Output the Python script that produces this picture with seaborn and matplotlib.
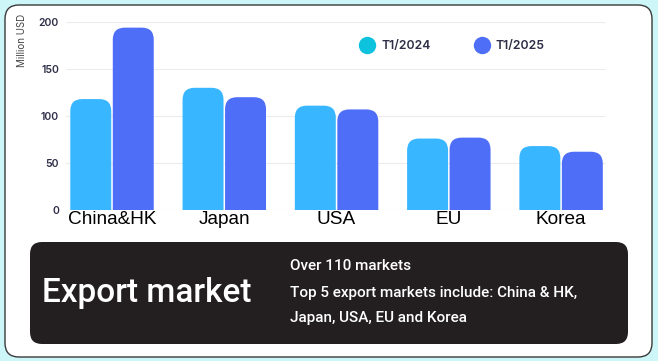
import matplotlib
matplotlib.use("Agg")
import matplotlib.pyplot as plt
import seaborn as sns
import pandas as pd
from matplotlib.patches import FancyBboxPatch, PathPatch
from matplotlib.path import Path
from matplotlib.transforms import IdentityTransform
from matplotlib.lines import Line2D

# ---- data ----
markets = ["China&HK", "Japan", "USA", "EU", "Korea"]
t1_2024 = [118, 130, 111, 76, 68]
t1_2025 = [194, 120, 107, 77, 62]
periods = ["T1/2024", "T1/2025"]
y_ticks = [0, 50, 100, 150, 200]
y_label = "Million USD"
box_title = "Export market"
box_lines = ["Over 110 markets",
             "Top 5 export markets include: China & HK,",
             "Japan, USA, EU and Korea"]

bar_colors = ["#38B6FF", "#4F6EF7"]
legend_colors = ["#0CC2DC", "#4F6EF7"]

df = pd.DataFrame({
    "market": markets * 2,
    "period": [periods[0]] * len(markets) + [periods[1]] * len(markets),
    "value": t1_2024 + t1_2025,
})

sns.set_theme(style="white")
W, H = 658, 361
fig = plt.figure(figsize=(W / 100, H / 100), dpi=100)
fig.patch.set_facecolor("#CCF6F7")


def px_box(x0, y0, x1, y1, r, fc, ec="none", lw=0, z=0):
    p = FancyBboxPatch((x0, H - y1), x1 - x0, y1 - y0,
                       boxstyle=f"round,pad=0,rounding_size={r}",
                       transform=IdentityTransform(), fc=fc, ec=ec, lw=lw,
                       zorder=z)
    fig.add_artist(p)


# white panel and dark info box
px_box(5, 5, 652, 357, 14, "white", ec="#3A3A3A", lw=1.0, z=-5)
px_box(30, 242, 628, 344, 12, "#231F20", z=1)

ax = fig.add_axes([66 / W, 1 - 210 / H, (606 - 66) / W, (210 - 22) / H])
ax.patch.set_alpha(0)

sns.barplot(data=df, x="market", y="value", hue="period", palette=bar_colors,
            width=0.757, gap=0.036, saturation=1, legend=False, ax=ax)

ax.set_xlim(-0.41, 4.40)
ax.set_ylim(0, 200)
ax.set_yticks(y_ticks)
ax.set_xlabel("")
ax.set_ylabel("")
ax.yaxis.grid(True, color="#ECECEC", lw=0.8)
ax.set_axisbelow(True)
sns.despine(ax=ax, left=True, bottom=True)

# round the top corners of each bar (in pixel space)
r = 12.0
for p in list(ax.patches):
    x, y = p.get_x(), p.get_y()
    w, h = p.get_width(), p.get_height()
    fc = p.get_facecolor()
    (X0, Y0) = ax.transData.transform((x, y))
    (X1, Y1) = ax.transData.transform((x + w, y + h))
    rr = min(r, (X1 - X0) / 2, Y1 - Y0)
    verts = [(X0, Y0), (X0, Y1 - rr), (X0, Y1), (X0 + rr, Y1),
             (X1 - rr, Y1), (X1, Y1), (X1, Y1 - rr), (X1, Y0), (X0, Y0)]
    codes = [Path.MOVETO, Path.LINETO, Path.CURVE3, Path.CURVE3,
             Path.LINETO, Path.CURVE3, Path.CURVE3, Path.LINETO, Path.CLOSEPOLY]
    p.remove()
    pp = PathPatch(Path(verts, codes), fc=fc, ec="none",
                   transform=IdentityTransform(), zorder=3)
    ax.add_artist(pp)

ax.tick_params(axis="y", length=0, pad=5, labelsize=7.5, labelcolor="#2E2E48")
for t in ax.get_yticklabels():
    t.set_fontfamily("Inter")
    t.set_fontweight("semibold")
ax.tick_params(axis="x", length=0, pad=1, labelsize=13.7, labelcolor="black")
for t in ax.get_xticklabels():
    t.set_fontfamily("Liberation Sans")

# legend
handles = [Line2D([], [], marker="o", ls="", markersize=11.5,
                  markerfacecolor=c, markeredgecolor=c) for c in legend_colors]
leg = ax.legend(handles, periods, ncol=2, frameon=False, loc="center left",
                bbox_to_anchor=(353.5 / W, 1 - 46 / H),
                bbox_transform=fig.transFigure, borderpad=0,
                handlelength=1.2, handletextpad=0.55, columnspacing=3.6,
                prop={"family": "Inter", "weight": "semibold", "size": 8.8})
for t in leg.get_texts():
    t.set_color("#2E2E48")

# y label
fig.text(22 / W, 1 - 14 / H, y_label, rotation=90, va="top", ha="center",
         fontsize=7, color="#444444", family="Inter")

# info box text
fig.text(42 / W, 1 - 293 / H, box_title, fontsize=24, color="white",
         family="Roboto", weight="medium", va="center", ha="left", zorder=5)
for txt, yy in zip(box_lines, [266, 293, 318]):
    fig.text(290 / W, 1 - yy / H, txt, fontsize=11, color="white",
             family="Roboto", weight="medium", va="center", ha="left",
             zorder=5)

fig.savefig("out.png", dpi=100, facecolor=fig.get_facecolor())
